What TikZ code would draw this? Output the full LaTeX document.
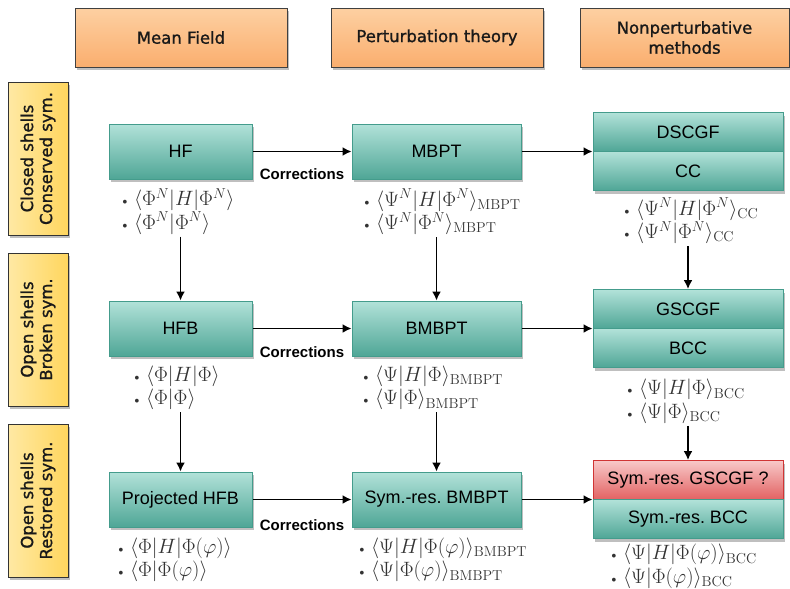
\documentclass[tikz,border=0pt]{standalone}
\usepackage[no-math]{fontspec}
\newfontfamily\dvs{DejaVu Sans}[FakeBold=1.2]
\newfontfamily\lsans{Liberation Sans}
\usetikzlibrary{shadows,arrows.meta}
\definecolor{or1}{HTML}{FDD0A2}
\definecolor{or2}{HTML}{FAAE6E}
\definecolor{ye1}{HTML}{FFE9A4}
\definecolor{ye2}{HTML}{FFD65E}
\definecolor{te1}{HTML}{B2E2D9}
\definecolor{te2}{HTML}{4FA696}
\definecolor{teb}{HTML}{449C8C}
\definecolor{re1}{HTML}{F8C8C8}
\definecolor{re2}{HTML}{E26262}
\definecolor{reb}{HTML}{D03434}
\newcommand\bul{{\fontsize{14}{14}\selectfont\textbullet}\,}
\begin{document}
\frenchspacing
\begin{tikzpicture}[x=1pt,y=-1pt,
  base/.style={draw, line width=1pt, inner sep=0pt,
    drop shadow={shadow xshift=2pt, shadow yshift=-3pt, opacity=0.25, fill=black}},
  header/.style={base, draw=black!75, top color=or1, bottom color=or2,
    minimum width=212pt, minimum height=59pt, align=center,
    font=\dvs\fontsize{16.5}{20}\selectfont, text=black!90},
  side/.style={base, draw=black!80, left color=ye1, right color=ye2,
    minimum width=60pt, minimum height=153pt},
  sidetext/.style={rotate=90, align=center, inner sep=0pt,
    font=\dvs\fontsize{16.5}{19}\selectfont, text=black!90},
  box/.style={base, draw=teb, top color=te1, bottom color=te2,
    minimum height=55pt, font=\lsans\fontsize{18}{21}\selectfont},
  half/.style={box, minimum width=190pt, minimum height=39pt},
  redhalf/.style={half, draw=reb, top color=re1, bottom color=re2},
  lst/.style={anchor=west, align=left, inner sep=2pt, text=black!80,
    font=\fontsize{22}{23.5}\selectfont},
  corr/.style={inner sep=0pt, font=\lsans\bfseries\fontsize{15}{18}\selectfont},
  arr/.style={-{Latex[length=9pt,width=9pt]}, line width=1.6pt}
]
\useasboundingbox (0,0) rectangle (790,589);

% headers
\node[header] (mf) at (181,37.5) {Mean Field};
\node[header] (pt) at (437,37.5) {Perturbation theory};
\node[header, minimum width=209pt] (np) at (684.5,37.5) {Nonperturbative\\methods};

% side labels
\node[side] (s1) at (38,158.5) {};
\node[sidetext] (s1t) at (s1.center) {Closed shells\\Conserved sym.};
\node[side] (s2) at (38,329.5) {};
\node[sidetext] (s2t) at (s2.center) {Open shells\\Broken sym.};
\node[side] (s3) at (38,500.5) {};
\node[sidetext] (s3t) at (s3.center) {Open shells\\Restored sym.};

% boxes
\node[box, minimum width=143pt] (hf) at (180.5,151.5) {HF};
\node[box, minimum width=143pt] (hfb) at (180.5,328.5) {HFB};
\node[box, minimum width=143pt] (phfb) at (180.5,499.5) {Projected HFB};
\node[box, minimum width=169pt] (mbpt) at (436.5,151.5) {MBPT};
\node[box, minimum width=169pt] (bmbpt) at (436.5,328.5) {BMBPT};
\node[box, minimum width=169pt] (sbmbpt) at (436.5,499.5) {Sym.-res. BMBPT};
\node[half] (dscgf) at (688,132) {DSCGF};
\node[half] (cc) at (688,171) {CC};
\node[half] (gscgf) at (688,309) {GSCGF};
\node[half] (bcc) at (688,348) {BCC};
\node[redhalf] (sgscgf) at (688,480) {Sym.-res. GSCGF ?};
\node[half] (sbcc) at (688,519) {Sym.-res. BCC};

% lists
\node[lst] (l1) at (117.5,211.5) {\bul$\langle\Phi^N|H|\Phi^N\rangle$\\\bul$\langle\Phi^N|\Phi^N\rangle$};
\node[lst] (l2) at (359.5,212) {\bul$\langle\Psi^N|H|\Phi^N\rangle_{\rm MBPT}$\\\bul$\langle\Psi^N|\Phi^N\rangle_{\rm MBPT}$};
\node[lst] (l3) at (619.5,221) {\bul$\langle\Psi^N|H|\Phi^N\rangle_{\rm CC}$\\\bul$\langle\Psi^N|\Phi^N\rangle_{\rm CC}$};
\node[lst] (l4) at (129.5,388) {\bul$\langle\Phi|H|\Phi\rangle$\\\bul$\langle\Phi|\Phi\rangle$};
\node[lst] (l5) at (358.5,388) {\bul$\langle\Psi|H|\Phi\rangle_{\rm BMBPT}$\\\bul$\langle\Psi|\Phi\rangle_{\rm BMBPT}$};
\node[lst] (l6) at (622.5,401.5) {\bul$\langle\Psi|H|\Phi\rangle_{\rm BCC}$\\\bul$\langle\Psi|\Phi\rangle_{\rm BCC}$};
\node[lst] (l7) at (113.5,560) {\bul$\langle\Phi|H|\Phi(\varphi)\rangle$\\\bul$\langle\Phi|\Phi(\varphi)\rangle$};
\node[lst] (l8) at (354.5,560) {\bul$\langle\Psi|H|\Phi(\varphi)\rangle_{\rm BMBPT}$\\\bul$\langle\Psi|\Phi(\varphi)\rangle_{\rm BMBPT}$};
\node[lst] (l9) at (606.5,566.5) {\bul$\langle\Psi|H|\Phi(\varphi)\rangle_{\rm BCC}$\\\bul$\langle\Psi|\Phi(\varphi)\rangle_{\rm BCC}$};

% horizontal arrows
\draw[arr] (hf.east) -- node[corr, below=16pt] (c1) {Corrections} (mbpt.west);
\draw[arr] (mbpt.east) -- (mbpt.east -| dscgf.west);
\draw[arr] (hfb.east) -- node[corr, below=17pt] (c2) {Corrections} (bmbpt.west);
\draw[arr] (bmbpt.east) -- (bmbpt.east -| gscgf.west);
\draw[arr] (phfb.east) -- node[corr, below=19pt] (c3) {Corrections} (sbmbpt.west);
\draw[arr] (sbmbpt.east) -- (sbmbpt.east -| sgscgf.west);

% vertical arrows
\draw[arr] (l1.south -| hf.south) -- (hfb.north);
\draw[arr] (l2.south -| mbpt.south) -- (bmbpt.north);
\draw[arr] (l3.south -| cc.south) -- (gscgf.north);
\draw[arr] (l4.south -| hfb.south) -- (phfb.north);
\draw[arr] (l5.south -| bmbpt.south) -- (sbmbpt.north);
\draw[arr] (l6.south -| bcc.south) -- (sgscgf.north);
\end{tikzpicture}
\end{document}
